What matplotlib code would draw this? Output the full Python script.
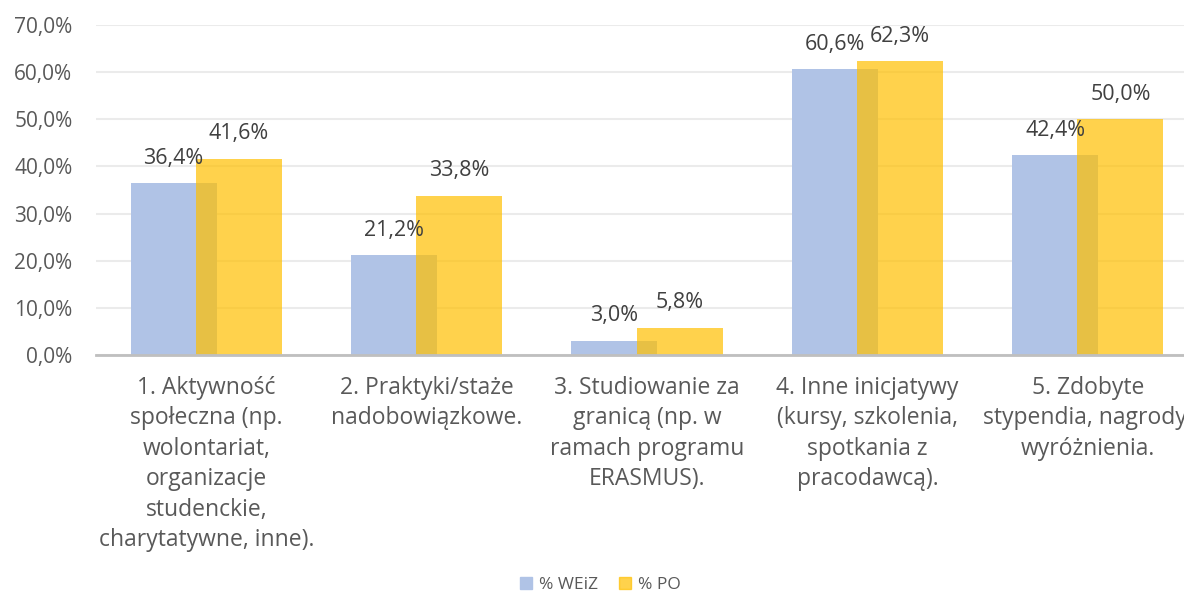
import matplotlib
matplotlib.use("Agg")
import matplotlib.pyplot as plt
import numpy as np
from matplotlib.patches import Patch

plt.rcParams['font.family'] = ['Open Sans', 'DejaVu Sans']

categories = [
    "1. Aktywność\nspołeczna (np.\nwolontariat,\norganizacje\nstudenckie,\ncharytatywne, inne).",
    "2. Praktyki/staże\nnadobowiązkowe.",
    "3. Studiowanie za\ngranicą (np. w\nramach programu\nERASMUS).",
    "4. Inne inicjatywy\n(kursy, szkolenia,\nspotkania z\npracodawcą).",
    "5. Zdobyte\nstypendia, nagrody,\nwyróżnienia.",
]
weiz = [36.4, 21.2, 3.0, 60.6, 42.4]
po = [41.6, 33.8, 5.8, 62.3, 50.0]
series_names = ["% WEiZ", "% PO"]
yticks = [0, 10, 20, 30, 40, 50, 60, 70]

blue = (176/255, 195/255, 230/255)
yellow = '#FFC000'

fig = plt.figure(figsize=(11.84, 5.94), dpi=100)
ax = fig.add_axes([96/1184, 1 - 355/594, 1102/1184, 330/594])

x = np.arange(len(categories))
w = 0.39
off = 0.148
b1 = ax.bar(x - off, weiz, w, color=blue, zorder=2)
b2 = ax.bar(x + off, po, w, color=yellow, alpha=0.7, zorder=3)

def fmt(v):
    return f"{v:.1f}%".replace('.', ',')

for bars, vals in ((b1, weiz), (b2, po)):
    for r, v in zip(bars, vals):
        ax.annotate(fmt(v), (r.get_x() + r.get_width()/2, v),
                    xytext=(0, 18), textcoords='offset points',
                    ha='center', va='center', fontsize=15.5,
                    color='#404040', zorder=5)

ax.set_xlim(-0.5, 4.5)
ax.set_ylim(0, 70)
ax.set_yticks(yticks)
ax.set_yticklabels([f"{t:.1f}%".replace('.', ',') for t in yticks])
ax.set_xticks(x)
ax.set_xticklabels(categories, linespacing=1.36, fontsize=16.5)
ax.tick_params(axis='both', length=0, labelcolor='#595959')
ax.tick_params(axis='y', pad=17, labelsize=15)
ax.tick_params(axis='x', pad=15)
for lab in ax.get_xticklabels():
    lab.set_ha('center'); lab.set_va('top')
ax.grid(axis='y', color='#EBEBEB', lw=1.5, zorder=0)
ax.set_axisbelow(True)
for s in ('top', 'right', 'left'):
    ax.spines[s].set_visible(False)
ax.spines['bottom'].set_color('#BFBFBF')
ax.spines['bottom'].set_linewidth(2)
ax.spines['bottom'].set_zorder(4)

handles = [Patch(color=blue), Patch(color=yellow, alpha=0.7)]
fig.legend(handles, series_names, loc='center', bbox_to_anchor=(600/1184, 1 - 585/594),
           ncol=2, frameon=False, fontsize=12.5, handlelength=0.7, handleheight=0.7,
           handletextpad=0.4, columnspacing=1.2, labelcolor='#595959')

fig.savefig("out.png", dpi=100)
